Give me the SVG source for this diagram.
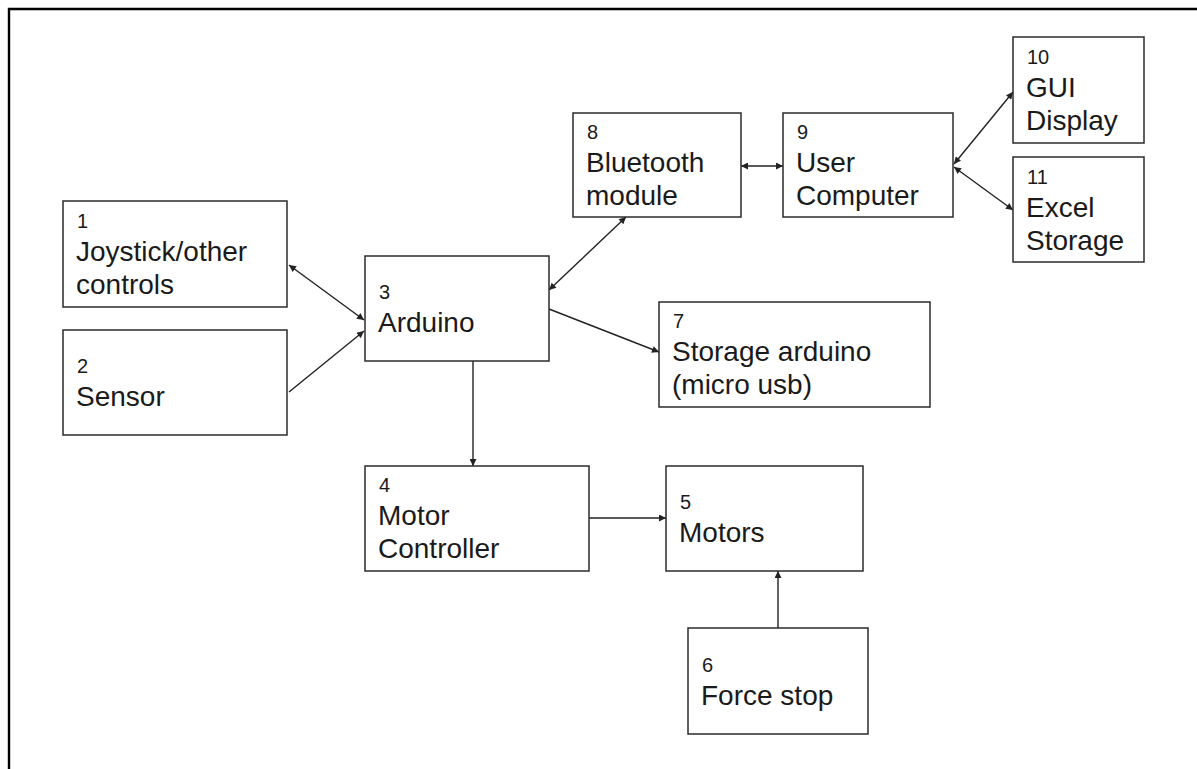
<svg xmlns="http://www.w3.org/2000/svg" width="1197" height="769" viewBox="0 0 1197 769">
<style>
.box{fill:#fff;stroke:#2b2b2b;stroke-width:1.5}
.num{font-family:"Liberation Sans",Arial,sans-serif;font-size:20px;fill:#1a1a1a}
.txt{font-family:"Liberation Sans",Arial,sans-serif;font-size:28px;fill:#1a1a1a}
.conn{fill:none;stroke:#222;stroke-width:1.4}
</style>
<defs>
<marker id="ah" viewBox="0 0 10 10" refX="10" refY="5" markerWidth="9" markerHeight="7" markerUnits="userSpaceOnUse" orient="auto-start-reverse">
<path d="M0,0 L10,5 L0,10 z" fill="#222"/>
</marker>
</defs>
<rect x="0" y="0" width="1197" height="769" fill="#fff"/>
<path d="M9,769 V9 H1197" fill="none" stroke="#000" stroke-width="2.4"/>

<g id="connectors">
<line class="conn" x1="289" y1="265" x2="364" y2="320" marker-start="url(#ah)" marker-end="url(#ah)"/>
<line class="conn" x1="289" y1="392" x2="364" y2="331" marker-end="url(#ah)"/>
<line class="conn" x1="626" y1="217" x2="549" y2="290" marker-start="url(#ah)" marker-end="url(#ah)"/>
<line class="conn" x1="549" y1="309" x2="659" y2="352" marker-end="url(#ah)"/>
<line class="conn" x1="473" y1="361" x2="473" y2="466" marker-end="url(#ah)"/>
<line class="conn" x1="589" y1="518" x2="666" y2="518" marker-end="url(#ah)"/>
<line class="conn" x1="778" y1="628" x2="778" y2="571" marker-end="url(#ah)"/>
<line class="conn" x1="741" y1="166" x2="783" y2="166" marker-start="url(#ah)" marker-end="url(#ah)"/>
<line class="conn" x1="954" y1="164" x2="1013" y2="92" marker-start="url(#ah)" marker-end="url(#ah)"/>
<line class="conn" x1="954" y1="167" x2="1013" y2="210" marker-start="url(#ah)" marker-end="url(#ah)"/>
</g>

<g id="node1">
<rect class="box" x="63" y="201" width="224" height="106"/>
<text class="num" x="77" y="228">1</text>
<text class="txt" x="76" y="261">Joystick/other</text>
<text class="txt" x="76" y="294">controls</text>
</g>
<g id="node2">
<rect class="box" x="63" y="330" width="224" height="105"/>
<text class="num" x="77" y="373">2</text>
<text class="txt" x="76" y="406">Sensor</text>
</g>
<g id="node3">
<rect class="box" x="365" y="256" width="184" height="105"/>
<text class="num" x="379" y="299">3</text>
<text class="txt" x="378" y="332">Arduino</text>
</g>
<g id="node4">
<rect class="box" x="365" y="466" width="224" height="105"/>
<text class="num" x="379" y="492">4</text>
<text class="txt" x="378" y="525">Motor</text>
<text class="txt" x="378" y="558">Controller</text>
</g>
<g id="node5">
<rect class="box" x="666" y="466" width="197" height="105"/>
<text class="num" x="680" y="509">5</text>
<text class="txt" x="679" y="542">Motors</text>
</g>
<g id="node6">
<rect class="box" x="688" y="628" width="180" height="106"/>
<text class="num" x="702" y="672">6</text>
<text class="txt" x="701" y="705">Force stop</text>
</g>
<g id="node7">
<rect class="box" x="659" y="302" width="271" height="105"/>
<text class="num" x="673" y="328">7</text>
<text class="txt" x="672" y="361">Storage arduino</text>
<text class="txt" x="672" y="394">(micro usb)</text>
</g>
<g id="node8">
<rect class="box" x="573" y="113" width="168" height="104"/>
<text class="num" x="587" y="139">8</text>
<text class="txt" x="586" y="172">Bluetooth</text>
<text class="txt" x="586" y="205">module</text>
</g>
<g id="node9">
<rect class="box" x="783" y="113" width="170" height="104"/>
<text class="num" x="797" y="139">9</text>
<text class="txt" x="796" y="172">User</text>
<text class="txt" x="796" y="205">Computer</text>
</g>
<g id="node10">
<rect class="box" x="1013" y="37" width="131" height="106"/>
<text class="num" x="1027" y="64">10</text>
<text class="txt" x="1026" y="97">GUI</text>
<text class="txt" x="1026" y="130">Display</text>
</g>
<g id="node11">
<rect class="box" x="1013" y="157" width="131" height="105"/>
<text class="num" x="1027" y="184">11</text>
<text class="txt" x="1026" y="217">Excel</text>
<text class="txt" x="1026" y="250">Storage</text>
</g>
</svg>
